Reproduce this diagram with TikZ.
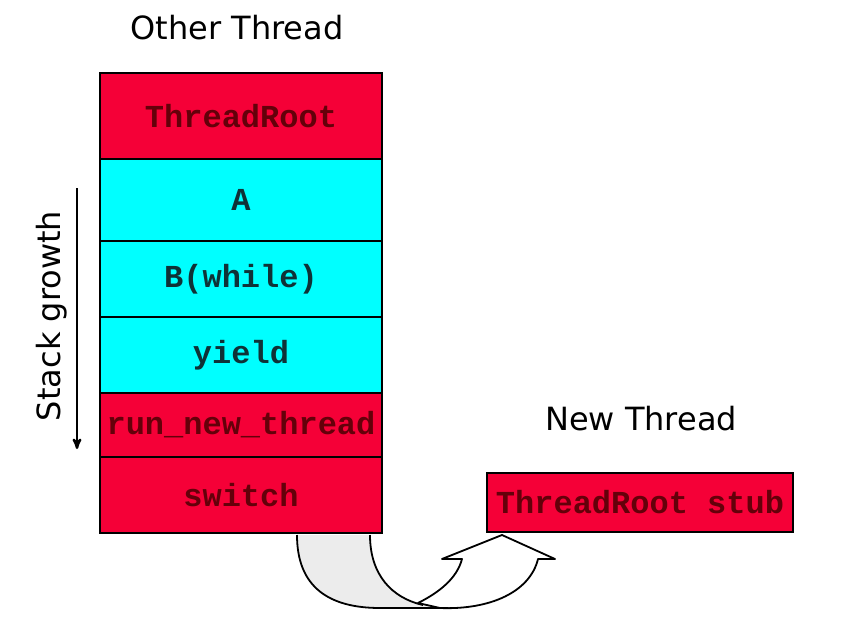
\documentclass[tikz,border=0pt]{standalone}
\usepackage{fontspec}
\usepackage{tikz}
\usetikzlibrary{arrows,positioning}
\usepackage{xcolor}
\newfontfamily\codefam{Liberation Mono}
\newfontfamily\lblfam{DejaVu Sans}
\newcommand{\codefont}{\codefam\bfseries\fontsize{32}{36}\selectfont}
\newcommand{\lblfont}{\lblfam\fontsize{32}{36}\selectfont}
\definecolor{hotred}{RGB}{245,0,55}
\definecolor{hottext}{RGB}{100,0,10}
\definecolor{coldcyan}{RGB}{0,255,255}
\definecolor{coldtext}{RGB}{15,50,55}

\begin{document}
\begin{tikzpicture}[x=1pt,y=-1pt,>=stealth']
\tikzset{
    frame/.style={%
        draw=black, line width=1.8pt,
        rectangle,
        outer sep=0pt, inner sep=0pt,
        minimum width=282pt,
        font=\codefont
        },
    hot/.style={frame, fill=hotred, text=hottext},
    cold/.style={frame, fill=coldcyan, text=coldtext},
    lbl/.style={font=\lblfont},
}
\useasboundingbox (0,0) rectangle (843,627);
%%%STACK
\node[hot, minimum height=86pt] (root) at (241,116) {ThreadRoot};
\node[cold, minimum height=82pt, below=0pt of root] (fa) {A};
\node[cold, minimum height=76pt, below=0pt of fa] (fb) {B(while)};
\node[cold, minimum height=76pt, below=0pt of fb] (fyield) {yield};
\node[hot, minimum height=64pt, below=0pt of fyield] (frun) {run\_new\_thread};
\node[hot, minimum height=76pt, below=0pt of frun] (fswitch) {switch};
\node[hot, minimum width=306pt, minimum height=59pt] (stub) at (640,502.5) {ThreadRoot stub};
%%%LABELS
\node[lbl] (other) at (237,28) {Other Thread};
\node[lbl] (newthread) at (641,419) {New Thread};
\node[lbl, rotate=90] (growth) at (52,316) {Stack growth};
\coordinate (gtop) at (77,188);
\coordinate (gbot) at (77,449);
\draw[->, line width=2.4pt] (gtop) -- (gbot);
%%%SWITCH ARROW
\fill[gray!15] (297,535) .. controls (297,588) and (330,608) .. (380,608) -- (440,608)
  -- (423,605) .. controls (392,598) and (370,575) .. (370,535) -- cycle;
\draw[line width=1.8pt] (297,535) .. controls (297,588) and (330,608) .. (380,608) -- (440,608);
\draw[line width=1.8pt] (370,535) .. controls (370,575) and (392,598) .. (423,605);
\filldraw[line width=1.8pt, fill=white, line join=round] (418,603) .. controls (440,592) and (457,578) .. (462,559)
  -- (442,559) -- (502,535) -- (555,559) -- (538,559)
  .. controls (530,592) and (490,610) .. (440,608) -- cycle;
\end{tikzpicture}
\end{document}
